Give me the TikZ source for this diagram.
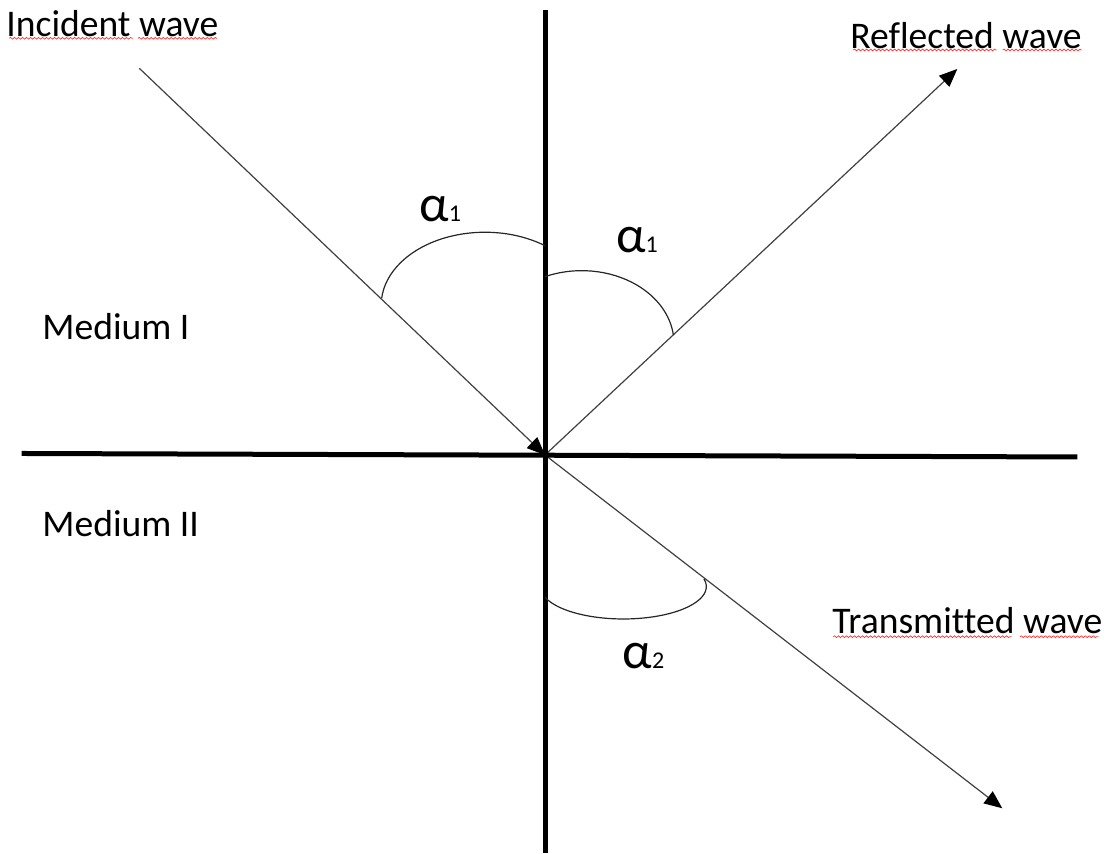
\documentclass[tikz,border=0pt]{standalone}
\usepackage{fontspec}
\setmainfont{Carlito}[Ligatures=CommonOff]
\usepackage{tikz}
\usetikzlibrary{arrows.meta,decorations.pathmorphing}

\begin{document}
\begin{tikzpicture}[x=0.5pt,y=0.5pt,
    axisline/.style={line width=2.5pt,black},
    ray/.style={line width=0.6pt,black!75,-{Triangle[length=9pt,width=7.5pt,black]}},
    anglearc/.style={line width=0.6pt,black!85},
    lbl/.style={anchor=base west,inner sep=0pt,font=\fontsize{18.8}{22}\selectfont},
    anglbl/.style={anchor=base west,inner sep=0pt},
    spell/.style={red!80,line width=0.35pt,decorate,decoration={snake,amplitude=0.45pt,segment length=2pt}}]
      \useasboundingbox (0,0) rectangle (1109,854);
      % Points of the rays
      \coordinate (O) at (545,399);
      \coordinate (inc) at (139.3,785.7);
      \coordinate (refl) at (957.3,785);
      \coordinate (trans) at (1002.3,45.7);
      \coordinate (top) at (545.5,844);
      \coordinate (bot) at (545.5,1);
      \coordinate (left) at (21.7,400.5);
      \coordinate (right) at (1077.3,397);
      % Incident, reflected and transmitted rays
      \draw[ray] (inc) -- (O);
      \draw[ray] (O) -- (refl);
      \draw[ray] (O) -- (trans);
      % Boundary and normal
      \draw[axisline] (left) -- (right);
      \draw[axisline] (top) -- (bot);
      % Angle arcs
      \draw[anglearc] (545,608.3) arc[start angle=54.6,end angle=174.7,x radius=103.7,y radius=72.75];
      \draw[anglearc] (545,577.3) arc[start angle=113.5,end angle=6.5,x radius=92.2,y radius=72.6];
      \draw[anglearc] (545,256.7) arc[start angle=199.3,end angle=373.6,x radius=83,y radius=32.4];
      \node[anglbl] (a1) at (419,632.3) {{\fontsize{26}{30}\selectfont α}{\fontsize{12}{14}\selectfont 1}};
      \node[anglbl] (a1r) at (615.7,601) {{\fontsize{26}{30}\selectfont α}{\fontsize{12}{14}\selectfont 1}};
      \node[anglbl] (a2) at (622.3,185.7) {{\fontsize{26}{30}\selectfont α}{\fontsize{12}{14}\selectfont 2}};
      % Labels
      \node[lbl] (incl) at (6,817.3) {Incident wave};
      \node[lbl] (refll) at (850,805.7) {Reflected wave};
      \node[lbl] (transl) at (832,220.7) {Transmitted wave};
      \node[lbl] (med1) at (42,514) {Medium I};
      \node[lbl] (med2) at (42,317.3) {Medium II};
      % Spelling marks under the labels
      \draw[spell] (9.3,815.7) -- (133,815.7);
      \draw[spell] (138,815.7) -- (217,815.7);
      \draw[spell] (853.3,804) -- (996.7,804);
      \draw[spell] (1002.7,804) -- (1081.7,804);
      \draw[spell] (833.3,217.3) -- (1011.7,217.3);
      \draw[spell] (1020,217.3) -- (1098.3,217.3);
\end{tikzpicture}
\end{document}
